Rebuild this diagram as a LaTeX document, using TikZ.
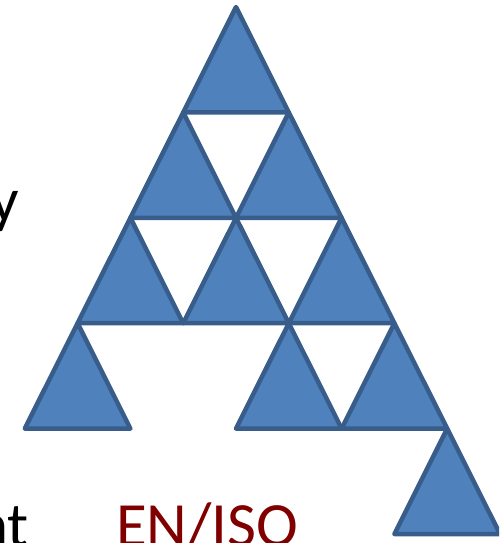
\documentclass[tikz,border=0pt]{standalone}
\usepackage{fontspec}
\setmainfont{Carlito}
\definecolor{trifill}{RGB}{79,129,189}
\definecolor{triedge}{RGB}{56,93,138}
\definecolor{isored}{RGB}{128,0,0}
\tikzset{
  tri/.style={fill=trifill,draw=triedge,line width=4.5pt,line join=round},
  bigtext/.style={inner sep=0pt,font=\fontsize{63}{68}\selectfont}
}
\begin{document}
\begin{tikzpicture}[x=1pt,y=-1pt]
\useasboundingbox (0,0) rectangle (499,543);
\clip (0,0) rectangle (499,543);
\def\hw{52.8}
\def\hh{105.4}
\foreach \ax/\ay in {236/7,
  183.2/112.4, 288.8/112.4,
  130.4/217.8, 236/217.8, 341.6/217.8,
  77.6/323.2, 288.8/323.2, 394.4/323.2,
  447.2/428.6}{
  \draw[tri] (\ax,\ay) -- (\ax+\hw,\ay+\hh) -- (\ax-\hw,\ay+\hh) -- cycle;
}
\node[bigtext,anchor=base east] (ty) at (19,221) {y};
\node[bigtext,anchor=base east] (tnt) at (29,546) {nt};
\node[bigtext,anchor=base west,text=isored] (tiso) at (116,546) {EN/ISO};
\end{tikzpicture}
\end{document}
